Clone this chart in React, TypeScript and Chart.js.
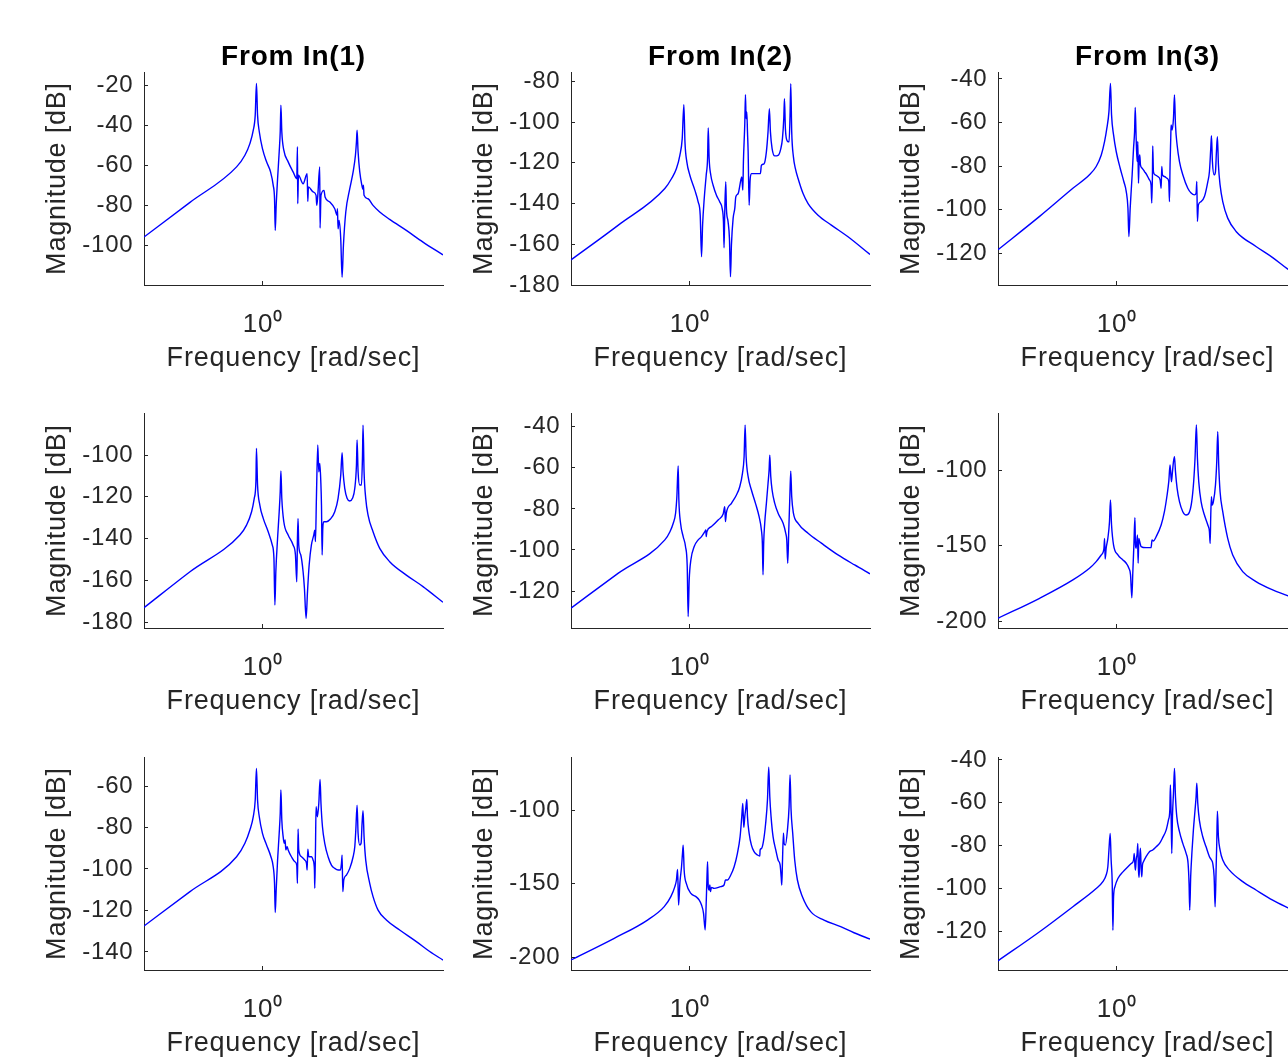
import React, { useEffect, useRef } from "react";
import { Chart, registerables } from "chart.js";

Chart.register(...registerables);

type Pt = [number, number];

// ---- Data: [frequency (rad/s), magnitude (dB)] ----
const out1In1: Pt[] = [[0.400,-95.8],[0.570,-78.5],[0.816,-60.8],[0.870,-55.0],[0.904,-49.2],[0.928,-42.5],[0.942,-35.0],[0.951,-19.2],[0.959,-35.0],[0.972,-43.3],[0.996,-51.7],[1.028,-58.3],[1.060,-63.3],[1.082,-70.0],[1.093,-76.7],[1.099,-92.5],[1.107,-80.0],[1.119,-66.7],[1.133,-53.3],[1.142,-43.3],[1.148,-30.0],[1.156,-43.3],[1.174,-52.5],[1.214,-58.3],[1.261,-63.3],[1.297,-66.7],[1.304,-50.8],[1.307,-79.2],[1.314,-65.0],[1.362,-69.2],[1.405,-64.2],[1.412,-78.0],[1.419,-70.8],[1.471,-73.3],[1.505,-75.0],[1.513,-80.0],[1.524,-75.8],[1.548,-60.8],[1.552,-91.3],[1.563,-75.0],[1.600,-72.5],[1.613,-75.8],[1.672,-78.3],[1.738,-81.7],[1.770,-85.0],[1.774,-81.7],[1.783,-91.7],[1.797,-87.5],[1.820,-96.7],[1.839,-115.8],[1.858,-100.0],[1.892,-83.3],[1.951,-71.7],[2.002,-63.3],[2.038,-55.0],[2.054,-48.3],[2.064,-42.5],[2.080,-53.3],[2.107,-63.3],[2.140,-69.7],[2.161,-72.0],[2.167,-70.0],[2.178,-75.0],[2.246,-76.7],[2.334,-80.0],[2.457,-83.3],[2.653,-87.0],[3.016,-92.5],[3.429,-98.3],[4.000,-104.7]];

const out1In2: Pt[] = [[0.400,-167.7],[0.576,-150.6],[0.824,-132.6],[0.868,-127.7],[0.901,-122.8],[0.925,-116.3],[0.942,-108.1],[0.954,-91.4],[0.962,-109.7],[0.976,-119.5],[0.999,-126.1],[1.038,-133.4],[1.065,-139.2],[1.082,-145.7],[1.093,-166.1],[1.102,-150.6],[1.116,-137.5],[1.133,-126.1],[1.145,-117.9],[1.151,-102.9],[1.159,-117.9],[1.174,-126.1],[1.195,-131.0],[1.226,-135.9],[1.258,-139.2],[1.281,-142.4],[1.294,-149.0],[1.300,-161.7],[1.307,-144.1],[1.317,-129.3],[1.324,-142.4],[1.341,-149.0],[1.355,-157.1],[1.366,-175.9],[1.376,-160.4],[1.394,-147.3],[1.412,-142.4],[1.423,-136.7],[1.449,-135.1],[1.479,-128.5],[1.490,-126.9],[1.502,-133.4],[1.509,-119.5],[1.525,-100.8],[1.533,-86.5],[1.541,-98.3],[1.549,-95.0],[1.557,-104.8],[1.565,-114.6],[1.577,-140.8],[1.589,-128.5],[1.605,-125.3],[1.720,-125.3],[1.733,-121.2],[1.770,-120.4],[1.801,-114.6],[1.824,-104.8],[1.843,-93.4],[1.858,-104.8],[1.882,-113.0],[1.921,-116.6],[1.971,-116.3],[2.013,-113.0],[2.038,-108.1],[2.059,-98.3],[2.070,-88.5],[2.085,-103.2],[2.118,-109.4],[2.145,-109.7],[2.161,-96.7],[2.173,-81.1],[2.189,-104.8],[2.218,-117.1],[2.252,-122.8],[2.299,-127.7],[2.389,-135.1],[2.483,-140.0],[2.681,-145.7],[2.970,-150.6],[3.377,-156.3],[4.000,-165.0]];

const out1In3: Pt[] = [[0.400,-118.4],[0.551,-103.1],[0.712,-90.2],[0.809,-84.0],[0.852,-80.2],[0.886,-74.9],[0.909,-68.7],[0.925,-62.6],[0.940,-55.0],[0.951,-42.0],[0.959,-56.5],[0.974,-65.7],[0.994,-73.3],[1.025,-81.0],[1.054,-87.1],[1.074,-91.7],[1.088,-99.3],[1.096,-112.3],[1.107,-99.3],[1.124,-84.0],[1.136,-71.8],[1.145,-64.2],[1.151,-53.1],[1.159,-67.2],[1.168,-77.9],[1.174,-68.7],[1.180,-87.9],[1.186,-77.2],[1.192,-74.9],[1.198,-79.4],[1.214,-81.0],[1.236,-82.5],[1.258,-84.0],[1.284,-86.3],[1.300,-88.6],[1.307,-97.0],[1.314,-84.0],[1.317,-70.7],[1.324,-82.5],[1.341,-84.0],[1.369,-84.8],[1.394,-86.3],[1.405,-90.2],[1.412,-80.2],[1.419,-84.0],[1.441,-84.8],[1.471,-85.6],[1.490,-87.1],[1.498,-96.3],[1.505,-79.4],[1.513,-67.2],[1.517,-61.1],[1.529,-63.4],[1.545,-58.0],[1.557,-47.3],[1.569,-61.1],[1.589,-70.3],[1.618,-77.9],[1.660,-84.0],[1.725,-90.2],[1.770,-92.4],[1.816,-93.2],[1.839,-92.4],[1.849,-87.1],[1.858,-105.4],[1.872,-97.8],[1.911,-96.3],[1.961,-94.0],[2.013,-87.1],[2.038,-82.5],[2.059,-71.8],[2.070,-66.1],[2.085,-77.9],[2.113,-84.0],[2.135,-82.5],[2.151,-73.3],[2.167,-66.5],[2.184,-79.4],[2.212,-88.6],[2.258,-96.3],[2.346,-103.9],[2.502,-110.0],[2.917,-116.9],[3.317,-122.0],[3.718,-127.2],[4.000,-130.2]];

const out2In1: Pt[] = [[0.400,-173.0],[0.570,-155.8],[0.837,-138.2],[0.881,-133.5],[0.916,-127.1],[0.935,-120.7],[0.947,-112.7],[0.951,-96.8],[0.959,-114.3],[0.976,-123.9],[1.002,-130.3],[1.041,-136.7],[1.074,-143.0],[1.088,-149.4],[1.096,-171.7],[1.104,-155.8],[1.119,-139.8],[1.133,-127.1],[1.142,-117.5],[1.148,-107.6],[1.156,-120.7],[1.174,-131.9],[1.214,-138.2],[1.261,-143.0],[1.284,-147.8],[1.297,-160.6],[1.304,-139.8],[1.310,-130.3],[1.317,-143.0],[1.338,-147.8],[1.362,-155.8],[1.376,-163.7],[1.394,-178.1],[1.409,-165.3],[1.427,-152.6],[1.452,-143.0],[1.479,-138.2],[1.490,-135.9],[1.498,-141.4],[1.509,-120.7],[1.525,-95.2],[1.537,-108.0],[1.549,-104.0],[1.561,-112.7],[1.569,-123.9],[1.577,-147.8],[1.585,-135.1],[1.597,-131.9],[1.630,-131.9],[1.681,-130.6],[1.738,-127.1],[1.783,-120.7],[1.820,-109.6],[1.839,-98.9],[1.853,-108.0],[1.877,-115.9],[1.911,-120.7],[1.951,-122.0],[1.992,-120.7],[2.028,-115.9],[2.054,-104.8],[2.064,-92.8],[2.080,-108.0],[2.107,-114.3],[2.135,-114.3],[2.151,-101.6],[2.161,-85.7],[2.178,-108.0],[2.206,-120.7],[2.246,-128.7],[2.334,-136.7],[2.457,-144.6],[2.653,-151.0],[3.016,-157.4],[3.429,-162.9],[4.000,-170.4]];

const out2In2: Pt[] = [[0.400,-128.3],[0.576,-111.3],[0.824,-95.1],[0.857,-91.1],[0.879,-87.0],[0.895,-82.1],[0.904,-74.0],[0.913,-59.1],[0.918,-75.7],[0.930,-87.0],[0.949,-93.5],[0.966,-98.3],[0.979,-108.1],[0.986,-132.4],[0.994,-114.6],[1.007,-104.8],[1.033,-98.3],[1.065,-95.1],[1.093,-93.5],[1.121,-91.1],[1.130,-90.2],[1.133,-93.5],[1.139,-91.1],[1.180,-88.6],[1.242,-85.4],[1.291,-82.5],[1.307,-78.9],[1.314,-86.2],[1.324,-81.8],[1.376,-77.3],[1.430,-73.2],[1.467,-69.2],[1.498,-62.7],[1.517,-54.6],[1.529,-39.2],[1.541,-54.6],[1.565,-64.3],[1.605,-70.8],[1.656,-77.3],[1.703,-83.8],[1.733,-90.2],[1.746,-96.7],[1.755,-112.1],[1.764,-96.7],[1.778,-87.0],[1.801,-77.3],[1.824,-67.6],[1.839,-61.1],[1.849,-53.8],[1.863,-64.3],[1.882,-70.8],[1.921,-77.3],[1.971,-82.1],[2.049,-87.0],[2.091,-91.9],[2.107,-95.1],[2.123,-106.5],[2.140,-90.2],[2.156,-75.7],[2.173,-61.6],[2.189,-74.0],[2.218,-82.1],[2.299,-87.0],[2.483,-91.9],[2.751,-96.7],[3.126,-102.4],[3.554,-107.3],[4.000,-111.6]];

const out2In3: Pt[] = [[0.400,-197.8],[0.551,-184.6],[0.712,-172.5],[0.809,-164.8],[0.852,-160.4],[0.886,-156.0],[0.904,-152.1],[0.909,-145.1],[0.913,-158.7],[0.920,-151.6],[0.932,-145.1],[0.944,-134.1],[0.951,-119.8],[0.959,-136.3],[0.974,-149.5],[1.007,-156.0],[1.047,-159.3],[1.074,-161.5],[1.096,-164.8],[1.110,-169.2],[1.121,-184.2],[1.130,-167.0],[1.139,-149.5],[1.148,-131.4],[1.153,-149.5],[1.159,-151.6],[1.171,-142.9],[1.177,-161.5],[1.183,-145.1],[1.195,-148.4],[1.204,-150.5],[1.251,-151.2],[1.300,-151.2],[1.310,-146.2],[1.324,-146.8],[1.352,-144.0],[1.405,-136.3],[1.441,-127.5],[1.471,-116.5],[1.490,-107.7],[1.505,-96.7],[1.521,-107.7],[1.533,-101.1],[1.545,-94.5],[1.557,-91.2],[1.569,-101.1],[1.589,-112.1],[1.618,-120.9],[1.660,-127.5],[1.703,-129.7],[1.746,-127.9],[1.778,-120.9],[1.805,-107.7],[1.824,-92.3],[1.843,-70.3],[1.858,-92.3],[1.877,-107.7],[1.911,-120.9],[1.961,-129.7],[2.013,-136.3],[2.038,-140.7],[2.049,-148.4],[2.059,-129.7],[2.070,-117.6],[2.080,-123.1],[2.101,-120.9],[2.135,-109.9],[2.156,-94.5],[2.173,-74.7],[2.189,-96.7],[2.212,-114.3],[2.258,-127.5],[2.346,-145.1],[2.438,-156.0],[2.633,-167.0],[2.917,-173.6],[3.317,-179.1],[3.718,-182.9],[4.000,-185.7]];

const out3In1: Pt[] = [[0.400,-127.5],[0.570,-110.9],[0.816,-94.1],[0.870,-87.6],[0.904,-81.2],[0.928,-74.8],[0.942,-66.7],[0.951,-51.5],[0.959,-66.7],[0.972,-74.8],[0.996,-82.8],[1.028,-88.4],[1.063,-94.1],[1.082,-98.9],[1.093,-106.9],[1.099,-121.0],[1.107,-110.1],[1.119,-95.7],[1.133,-82.8],[1.142,-73.2],[1.148,-61.9],[1.156,-76.4],[1.168,-84.4],[1.177,-87.6],[1.186,-86.0],[1.192,-90.8],[1.204,-89.2],[1.214,-90.8],[1.245,-94.1],[1.278,-96.5],[1.297,-98.1],[1.304,-106.9],[1.310,-80.7],[1.317,-90.8],[1.345,-94.1],[1.380,-95.7],[1.398,-97.3],[1.405,-100.5],[1.412,-90.4],[1.423,-94.1],[1.452,-94.1],[1.471,-95.7],[1.486,-100.5],[1.490,-109.3],[1.498,-90.8],[1.505,-70.0],[1.521,-74.8],[1.537,-68.4],[1.552,-56.8],[1.563,-68.4],[1.581,-79.6],[1.609,-87.6],[1.651,-94.1],[1.694,-98.1],[1.738,-99.7],[1.783,-100.5],[1.816,-100.5],[1.830,-97.3],[1.839,-93.3],[1.849,-110.9],[1.863,-105.3],[1.901,-102.9],[1.951,-99.7],[2.002,-94.1],[2.028,-89.2],[2.044,-81.2],[2.064,-69.2],[2.080,-82.8],[2.107,-88.4],[2.129,-87.6],[2.145,-78.0],[2.161,-71.9],[2.178,-84.4],[2.206,-95.7],[2.275,-106.9],[2.334,-113.3],[2.426,-119.8],[2.586,-124.6],[2.865,-129.4],[3.258,-135.0],[3.611,-139.8],[4.000,-143.9]];

const out3In2: Pt[] = [[0.400,-201.8],[0.558,-187.1],[0.721,-174.7],[0.820,-165.6],[0.863,-158.8],[0.890,-152.0],[0.901,-147.5],[0.909,-140.3],[0.916,-164.5],[0.925,-149.8],[0.937,-138.5],[0.944,-129.4],[0.949,-123.8],[0.956,-140.7],[0.972,-149.8],[1.007,-156.6],[1.047,-158.8],[1.074,-161.1],[1.093,-164.5],[1.110,-170.1],[1.124,-181.4],[1.133,-163.3],[1.139,-147.5],[1.145,-135.1],[1.151,-152.0],[1.159,-154.3],[1.165,-150.9],[1.171,-155.4],[1.180,-152.5],[1.204,-153.2],[1.267,-152.0],[1.300,-150.9],[1.314,-147.5],[1.334,-147.5],[1.369,-144.1],[1.405,-138.5],[1.441,-129.4],[1.471,-118.1],[1.490,-104.5],[1.502,-95.5],[1.513,-111.8],[1.525,-104.5],[1.537,-98.9],[1.549,-92.8],[1.557,-104.5],[1.577,-115.8],[1.605,-123.8],[1.638,-128.3],[1.681,-130.5],[1.712,-131.2],[1.716,-127.1],[1.733,-126.2],[1.760,-121.5],[1.791,-109.0],[1.816,-93.2],[1.834,-71.0],[1.849,-91.0],[1.867,-104.5],[1.896,-118.1],[1.936,-127.1],[1.971,-133.9],[2.002,-137.3],[2.018,-145.2],[2.028,-150.9],[2.038,-136.2],[2.054,-115.8],[2.064,-122.6],[2.085,-123.8],[2.118,-113.6],[2.145,-97.7],[2.161,-76.2],[2.178,-100.0],[2.206,-115.8],[2.240,-133.9],[2.287,-147.5],[2.377,-158.8],[2.534,-169.0],[2.807,-174.7],[3.191,-179.2],[3.536,-183.3],[4.000,-187.6]];

const out3In3: Pt[] = [[0.400,-133.9],[0.551,-120.3],[0.712,-108.6],[0.852,-100.1],[0.897,-96.9],[0.920,-93.8],[0.932,-89.9],[0.940,-82.1],[0.949,-74.3],[0.956,-86.8],[0.964,-97.7],[0.969,-119.6],[0.974,-104.0],[0.984,-99.3],[1.007,-95.4],[1.047,-92.3],[1.088,-89.9],[1.116,-88.4],[1.136,-86.8],[1.142,-83.7],[1.148,-89.1],[1.153,-91.5],[1.159,-86.8],[1.168,-83.7],[1.174,-79.0],[1.180,-91.5],[1.186,-94.9],[1.192,-85.2],[1.198,-81.3],[1.204,-89.9],[1.210,-94.6],[1.217,-89.1],[1.226,-87.6],[1.251,-85.2],[1.284,-82.9],[1.317,-82.1],[1.352,-80.6],[1.388,-79.0],[1.423,-76.2],[1.460,-72.8],[1.486,-68.1],[1.502,-63.4],[1.509,-51.7],[1.517,-65.0],[1.525,-83.7],[1.533,-66.5],[1.545,-55.6],[1.557,-43.9],[1.569,-57.2],[1.585,-66.5],[1.618,-73.5],[1.660,-79.0],[1.703,-83.7],[1.729,-88.4],[1.742,-97.7],[1.751,-110.2],[1.764,-94.6],[1.783,-82.1],[1.801,-72.8],[1.824,-63.4],[1.839,-57.2],[1.849,-50.9],[1.863,-60.3],[1.886,-68.1],[1.936,-75.9],[1.986,-80.6],[2.038,-85.2],[2.070,-86.8],[2.091,-88.4],[2.113,-94.6],[2.129,-108.6],[2.145,-91.5],[2.156,-79.0],[2.167,-63.9],[2.184,-75.9],[2.212,-82.1],[2.258,-86.8],[2.377,-91.5],[2.633,-96.9],[2.917,-100.8],[3.317,-105.5],[3.718,-109.0],[4.000,-111.1]];

// ---- Axis limits and tick labels ----
const inputTitles = ["From In(1)", "From In(2)", "From In(3)"];
const freqRange: [number, number] = [0.4, 4];
const xTickValues = [1];
const xTickLabel = "10\u2070";
const xAxisLabel = "Frequency [rad/sec]";
const yAxisLabel = "Magnitude [dB]";

const yLimits: [number, number][][] = [
  [[-119.7, -13.5], [-180, -75.4], [-134.6, -36.8]],
  [[-182.7, -79.9], [-138.0, -33.3], [-204.2, -62.4]],
  [[-148.7, -46.0], [-208.6, -64.0], [-138.2, -38.6]],
];
const yTickValues: number[][][] = [
  [[-100, -80, -60, -40, -20], [-180, -160, -140, -120, -100, -80], [-120, -100, -80, -60, -40]],
  [[-180, -160, -140, -120, -100], [-120, -100, -80, -60, -40], [-200, -150, -100]],
  [[-140, -120, -100, -80, -60], [-200, -150, -100], [-120, -100, -80, -60, -40]],
];
const series: Pt[][][] = [
  [out1In1, out1In2, out1In3],
  [out2In1, out2In2, out2In3],
  [out3In1, out3In2, out3In3],
];

// ---- Layout (pixels) ----
const PLOT_LEFT = [144, 571, 998];
const PLOT_TOP = [72, 413, 757];
const PLOT_HEIGHT = [213, 215, 213];
const PLOT_WIDTH = 299;
const Y_AXIS_W = 144;
const TOP_SPACE = 72;
const X_AXIS_H = 90;
const RIGHT_PAD = 6;

const FONT_FAMILY = "'Liberation Sans', Arial, Helvetica, sans-serif";
const TEXT_COLOR = "#262626";
const LINE_COLOR = "#0000ff";

const letterSpacingPlugin = {
  id: "letterSpacing",
  beforeDraw(chart: any) {
    try {
      chart.ctx.letterSpacing = "0.8px";
    } catch (e) {
      /* ignore */
    }
  },
};

function Panel({ row, col }: { row: number; col: number }) {
  const ref = useRef<HTMLCanvasElement | null>(null);
  const plotH = PLOT_HEIGHT[row];
  const canvasW = Y_AXIS_W + PLOT_WIDTH + RIGHT_PAD;
  const canvasH = TOP_SPACE + plotH + X_AXIS_H;
  const title = row === 0 ? inputTitles[col] : "";

  useEffect(() => {
    if (!ref.current) return;
    const [yMin, yMax] = yLimits[row][col];
    const ticks = yTickValues[row][col];
    const chart = new Chart(ref.current, {
      type: "line",
      data: {
        datasets: [
          {
            data: series[row][col].map(([x, y]) => ({ x, y })),
            borderColor: LINE_COLOR,
            borderWidth: 1.4,
            pointRadius: 0,
            cubicInterpolationMode: "monotone",
            fill: false,
          },
        ],
      },
      options: {
        animation: false,
        responsive: false,
        maintainAspectRatio: false,
        events: [],
        layout: { padding: { left: 0, right: RIGHT_PAD, top: title ? 0 : TOP_SPACE, bottom: 0 } },
        plugins: {
          legend: { display: false },
          tooltip: { enabled: false },
          title: {
            display: !!title,
            text: title,
            fullSize: false,
            color: "#000000",
            font: { family: FONT_FAMILY, size: 28, weight: "bold", lineHeight: 1.0 },
            padding: { top: 43.5, bottom: 0.5 },
          },
        },
        scales: {
          x: {
            type: "logarithmic",
            min: freqRange[0],
            max: freqRange[1],
            bounds: "data",
            afterBuildTicks: (s: any) => {
              s.ticks = xTickValues.map((v) => ({ value: v }));
            },
            afterFit: (s: any) => {
              s.height = X_AXIS_H;
            },
            ticks: {
              autoSkip: false,
              maxRotation: 0,
              minRotation: 0,
              padding: 28,
              color: TEXT_COLOR,
              font: { family: FONT_FAMILY, size: 26 },
              callback: () => xTickLabel,
            },
            grid: {
              display: true,
              drawOnChartArea: false,
              drawTicks: true,
              tickLength: -4,
              color: TEXT_COLOR,
              lineWidth: 1,
            },
            border: { display: true, color: TEXT_COLOR, width: 1 },
            title: {
              display: true,
              text: xAxisLabel,
              color: TEXT_COLOR,
              font: { family: FONT_FAMILY, size: 27 },
              padding: { top: 0, bottom: 0.5 },
            },
          },
          y: {
            type: "linear",
            min: yMin,
            max: yMax,
            bounds: "data",
            afterBuildTicks: (s: any) => {
              s.ticks = ticks.map((v) => ({ value: v }));
            },
            afterFit: (s: any) => {
              s.width = Y_AXIS_W;
            },
            ticks: {
              autoSkip: false,
              padding: 14.5,
              color: TEXT_COLOR,
              font: { family: FONT_FAMILY, size: 24 },
              callback: (v: any) => String(v),
            },
            grid: {
              display: true,
              drawOnChartArea: false,
              drawTicks: true,
              tickLength: -4,
              color: TEXT_COLOR,
              lineWidth: 1,
            },
            border: { display: true, color: TEXT_COLOR, width: 1 },
            title: {
              display: true,
              text: yAxisLabel,
              color: TEXT_COLOR,
              font: { family: FONT_FAMILY, size: 27 },
              padding: { top: 41.5, bottom: 0 },
            },
          },
        },
      } as any,
      plugins: [letterSpacingPlugin],
    });
    return () => chart.destroy();
  }, [row, col]);

  return (
    <canvas
      ref={ref}
      width={canvasW}
      height={canvasH}
      style={{
        position: "absolute",
        left: PLOT_LEFT[col] - Y_AXIS_W,
        top: PLOT_TOP[row] - TOP_SPACE,
        width: canvasW,
        height: canvasH,
        display: "block",
      }}
    />
  );
}

export default function App() {
  const cells: { row: number; col: number }[] = [];
  for (let r = 0; r < 3; r++) for (let c = 0; c < 3; c++) cells.push({ row: r, col: c });
  return (
    <div
      style={{
        position: "fixed",
        left: 0,
        top: 0,
        width: 1288,
        height: 1061,
        overflow: "hidden",
        background: "#ffffff",
      }}
    >
      {cells.map(({ row, col }) => (
        <Panel key={`${row}-${col}`} row={row} col={col} />
      ))}
    </div>
  );
}
